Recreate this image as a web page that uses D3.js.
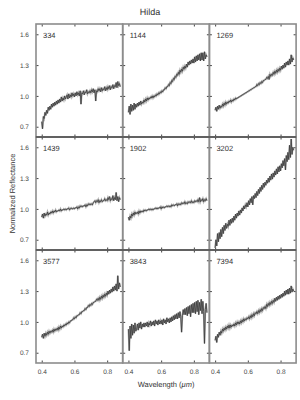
<!DOCTYPE html>
<html>
<head>
<meta charset="utf-8">
<script src="https://cdn.jsdelivr.net/npm/d3@7"></script>
<style>
	body { margin: 0; background: #fff; -webkit-font-smoothing: antialiased; }
	svg { font-family: "Liberation Sans", Arial, sans-serif; text-rendering: geometricPrecision; }
	.tick text { fill: #444; font-size: 6.5px; }
	.tick line { stroke: #444; }
	.domain { display: none; }
</style>
</head>
<body>
<svg id="graph"></svg>
<script>
var names = ["334", "1144", "1269", "1439", "1902", "3202", "3577", "3843", "7394"];
var xTicks = [0.4, 0.6, 0.8];
var yTicks = [0.7, 1.0, 1.3, 1.6];

// wavelength grid (um)
var wave = [
	0.400, 0.405, 0.410, 0.415, 0.420, 0.425, 0.430, 0.435, 0.440, 0.445,
	0.450, 0.455, 0.460, 0.465, 0.470, 0.475, 0.480, 0.485, 0.490, 0.495,
	0.500, 0.505, 0.510, 0.515, 0.520, 0.525, 0.530, 0.535, 0.540, 0.545,
	0.550, 0.555, 0.560, 0.565, 0.570, 0.575, 0.580, 0.585, 0.590, 0.595,
	0.600, 0.605, 0.610, 0.615, 0.620, 0.625, 0.630, 0.635, 0.640, 0.645,
	0.650, 0.655, 0.660, 0.665, 0.670, 0.675, 0.680, 0.685, 0.690, 0.695,
	0.700, 0.705, 0.710, 0.715, 0.720, 0.725, 0.730, 0.735, 0.740, 0.745,
	0.750, 0.755, 0.760, 0.765, 0.770, 0.775, 0.780, 0.785, 0.790, 0.795,
	0.800, 0.805, 0.810, 0.815, 0.820, 0.825, 0.830, 0.835, 0.840, 0.845,
	0.850, 0.855, 0.860, 0.865, 0.870, 0.875, 0.880
];

var r334 = [
	0.75, 0.68, 0.80, 0.78, 0.84, 0.81, 0.86, 0.83, 0.89, 0.86,
	0.90, 0.87, 0.92, 0.89, 0.93, 0.90, 0.94, 0.91, 0.95, 0.92,
	0.96, 0.93, 0.97, 0.94, 0.99, 0.95, 0.98, 0.96, 1.00, 0.97,
	0.99, 1.01, 0.97, 1.02, 0.98, 1.01, 0.99, 1.03, 1.00, 1.02,
	0.99, 1.03, 1.00, 1.04, 1.01, 1.03, 1.00, 1.05, 0.92, 1.03,
	1.02, 1.05, 1.01, 1.04, 1.03, 1.06, 1.02, 1.04, 1.03, 1.05,
	1.03, 1.06, 1.04, 1.07, 1.03, 1.06, 0.95, 1.05, 1.04, 1.07,
	1.05, 1.07, 1.04, 1.08, 1.05, 1.07, 1.06, 1.09, 1.05, 1.08,
	1.06, 1.09, 1.07, 1.10, 1.06, 1.09, 1.08, 1.11, 1.07, 1.10,
	1.09, 1.13, 1.08, 1.14, 1.10, 1.12, 1.09
];
var r1144 = [
	0.84, 0.90, 0.82, 0.92, 0.85, 0.91, 0.86, 0.93, 0.87, 0.92,
	0.89, 0.93, 0.90, 0.94, 0.91, 0.95, 0.92, 0.94, 0.93, 0.96,
	0.94, 0.97, 0.95, 0.98, 0.96, 0.98, 0.97, 0.99, 0.98, 1.00,
	0.98, 1.00, 0.99, 1.01, 1.00, 1.02, 1.01, 1.03, 1.02, 1.04,
	1.03, 1.05, 1.04, 1.06, 1.06, 1.08, 1.07, 1.09, 1.09, 1.11,
	1.10, 1.13, 1.12, 1.15, 1.14, 1.17, 1.16, 1.19, 1.18, 1.21,
	1.20, 1.23, 1.21, 1.25, 1.23, 1.26, 1.24, 1.28, 1.26, 1.29,
	1.27, 1.31, 1.28, 1.33, 1.30, 1.34, 1.31, 1.35, 1.32, 1.36,
	1.32, 1.38, 1.33, 1.39, 1.34, 1.40, 1.35, 1.41, 1.34, 1.42,
	1.35, 1.42, 1.34, 1.43, 1.36, 1.40, 1.38
];
var r1269 = [
	0.86, 0.89, 0.85, 0.90, 0.87, 0.91, 0.88, 0.90, 0.89, 0.92,
	0.90, 0.93, 0.91, 0.94, 0.92, 0.94, 0.93, 0.95, 0.94, 0.96,
	0.94, 0.96, 0.95, 0.97, 0.96, 0.98, 0.97, 0.98, 0.98, 0.99,
	0.99, 1.00, 1.00, 1.01, 1.01, 1.02, 1.02, 1.03, 1.03, 1.04,
	1.04, 1.05, 1.05, 1.06, 1.06, 1.07, 1.07, 1.08, 1.08, 1.09,
	1.09, 1.11, 1.10, 1.12, 1.11, 1.13, 1.12, 1.14, 1.13, 1.15,
	1.15, 1.16, 1.16, 1.18, 1.17, 1.19, 1.16, 1.21, 1.19, 1.21,
	1.20, 1.23, 1.21, 1.24, 1.22, 1.25, 1.23, 1.26, 1.24, 1.27,
	1.25, 1.29, 1.26, 1.30, 1.27, 1.32, 1.28, 1.33, 1.30, 1.34,
	1.30, 1.36, 1.31, 1.40, 1.33, 1.37, 1.35
];
var r1439 = [
	0.92, 0.95, 0.91, 0.96, 0.93, 0.95, 0.94, 0.97, 0.94, 0.96,
	0.95, 0.97, 0.96, 0.98, 0.96, 0.98, 0.97, 0.99, 0.97, 0.98,
	0.98, 0.99, 0.98, 1.00, 0.98, 0.99, 0.99, 1.00, 0.99, 1.00,
	0.99, 1.00, 1.00, 1.01, 0.99, 1.00, 1.01, 1.00, 1.00, 1.01,
	1.00, 1.01, 1.01, 1.02, 1.00, 1.02, 1.01, 1.03, 1.02, 1.03,
	1.02, 1.03, 1.03, 1.04, 1.02, 1.04, 1.03, 1.05, 1.04, 1.05,
	1.04, 1.05, 1.04, 1.06, 1.07, 1.08, 1.06, 1.08, 1.07, 1.09,
	1.06, 1.08, 1.07, 1.09, 1.07, 1.08, 1.08, 1.10, 1.08, 1.09,
	1.08, 1.11, 1.09, 1.12, 1.08, 1.10, 1.09, 1.13, 1.08, 1.11,
	1.09, 1.16, 1.08, 1.12, 1.07, 1.11, 1.09
];
var r1902 = [
	0.92, 0.89, 0.93, 0.91, 0.95, 0.93, 0.96, 0.94, 0.97, 0.95,
	0.96, 0.97, 0.95, 0.98, 0.96, 0.98, 0.97, 0.98, 0.97, 0.99,
	0.98, 0.99, 0.98, 0.99, 0.99, 1.00, 0.99, 1.00, 0.99, 1.00,
	0.99, 1.00, 1.00, 1.01, 1.00, 1.01, 1.00, 1.01, 1.01, 1.02,
	1.00, 1.02, 1.01, 1.02, 1.01, 1.02, 1.02, 1.03, 1.02, 1.03,
	1.02, 1.03, 1.02, 1.04, 1.03, 1.04, 1.03, 1.04, 1.04, 1.05,
	1.03, 1.05, 1.04, 1.05, 1.04, 1.06, 1.05, 1.06, 1.05, 1.07,
	1.05, 1.06, 1.05, 1.07, 1.06, 1.07, 1.06, 1.08, 1.06, 1.07,
	1.06, 1.08, 1.07, 1.08, 1.07, 1.09, 1.07, 1.11, 1.07, 1.09,
	1.08, 1.10, 1.07, 1.09, 1.08, 1.10, 1.08
];
var r3202 = [
	0.62, 0.70, 0.64, 0.76, 0.68, 0.77, 0.71, 0.80, 0.73, 0.82,
	0.76, 0.84, 0.79, 0.86, 0.81, 0.85, 0.83, 0.89, 0.84, 0.90,
	0.86, 0.91, 0.87, 0.93, 0.89, 0.95, 0.91, 0.96, 0.93, 0.98,
	0.94, 0.99, 0.96, 1.01, 0.98, 1.03, 1.00, 1.04, 1.02, 1.06,
	1.02, 1.08, 1.04, 1.10, 1.06, 1.12, 1.04, 1.13, 1.10, 1.15,
	1.11, 1.17, 1.13, 1.19, 1.15, 1.21, 1.17, 1.23, 1.19, 1.25,
	1.21, 1.26, 1.23, 1.28, 1.25, 1.30, 1.26, 1.32, 1.28, 1.34,
	1.29, 1.35, 1.31, 1.37, 1.33, 1.39, 1.34, 1.41, 1.36, 1.42,
	1.37, 1.44, 1.40, 1.47, 1.42, 1.49, 1.38, 1.52, 1.46, 1.55,
	1.48, 1.62, 1.50, 1.68, 1.53, 1.60, 1.57
];
var r3577 = [
	0.85, 0.88, 0.84, 0.89, 0.86, 0.89, 0.87, 0.90, 0.88, 0.91,
	0.89, 0.91, 0.90, 0.92, 0.90, 0.93, 0.91, 0.93, 0.92, 0.94,
	0.92, 0.95, 0.93, 0.96, 0.94, 0.96, 0.95, 0.97, 0.96, 0.98,
	0.97, 0.99, 0.98, 1.00, 0.99, 1.01, 1.01, 1.02, 1.02, 1.04,
	1.03, 1.05, 1.04, 1.06, 1.06, 1.07, 1.07, 1.09, 1.08, 1.10,
	1.10, 1.11, 1.11, 1.13, 1.12, 1.14, 1.14, 1.16, 1.15, 1.17,
	1.16, 1.18, 1.17, 1.19, 1.19, 1.20, 1.20, 1.22, 1.21, 1.23,
	1.21, 1.24, 1.22, 1.25, 1.23, 1.26, 1.24, 1.27, 1.25, 1.28,
	1.26, 1.30, 1.27, 1.31, 1.28, 1.32, 1.29, 1.34, 1.30, 1.35,
	1.31, 1.37, 1.30, 1.45, 1.32, 1.38, 1.34
];
var r3843 = [
	0.93, 0.72, 0.96, 0.84, 0.98, 0.87, 0.97, 0.89, 0.99, 0.91,
	0.93, 0.98, 0.92, 0.99, 0.94, 1.00, 0.93, 0.98, 0.95, 0.99,
	0.95, 0.99, 0.96, 1.00, 0.95, 0.99, 0.97, 1.01, 0.96, 1.00,
	0.97, 1.01, 0.96, 1.02, 0.98, 1.01, 0.97, 1.02, 0.98, 1.01,
	0.98, 1.02, 0.97, 1.03, 0.99, 1.02, 0.98, 1.04, 1.00, 1.03,
	0.99, 1.04, 1.00, 1.05, 1.01, 1.06, 1.02, 1.07, 1.03, 1.08,
	1.03, 1.09, 1.04, 1.10, 1.05, 0.90, 1.06, 1.12, 1.07, 1.13,
	1.07, 1.14, 1.06, 1.15, 1.08, 1.16, 1.05, 1.17, 1.09, 1.18,
	1.09, 1.19, 1.08, 1.20, 1.10, 1.21, 1.07, 1.19, 1.11, 1.22,
	1.08, 1.20, 1.10, 0.79, 1.12, 1.18, 1.09
];
var r7394 = [
	0.82, 0.86, 0.80, 0.88, 0.85, 0.90, 0.87, 0.91, 0.89, 0.93,
	0.91, 0.94, 0.92, 0.95, 0.93, 0.96, 0.94, 0.97, 0.94, 0.97,
	0.95, 0.97, 0.96, 0.98, 0.96, 0.99, 0.97, 1.00, 0.98, 1.00,
	0.98, 1.01, 0.99, 1.02, 1.00, 1.03, 1.01, 1.03, 1.02, 1.04,
	1.03, 1.05, 1.03, 1.06, 1.04, 1.07, 1.05, 1.08, 1.06, 1.09,
	1.08, 1.10, 1.08, 1.11, 1.09, 1.12, 1.10, 1.13, 1.11, 1.14,
	1.13, 1.15, 1.13, 1.17, 1.15, 1.18, 1.16, 1.19, 1.17, 1.20,
	1.18, 1.21, 1.19, 1.23, 1.20, 1.24, 1.21, 1.25, 1.22, 1.26,
	1.23, 1.27, 1.24, 1.28, 1.25, 1.30, 1.26, 1.31, 1.27, 1.32,
	1.27, 1.33, 1.28, 1.35, 1.29, 1.32, 1.30
];
var spectra = [r334, r1144, r1269, r1439, r1902, r3202, r3577, r3843, r7394];

var margin = {top: 24, left: 36},
	cellW = 86.7,
	cellH = 113;

var svg = d3.select("#graph")
	.attr("width", 300)
	.attr("height", 400);

// title and axis labels
svg.append("text")
	.attr("x", 150).attr("y", 15)
	.attr("text-anchor", "middle")
	.attr("font-size", 9).attr("fill", "#333")
	.text("Hilda");
svg.append("text")
	.attr("transform", "translate(15," + (margin.top + cellH * 1.5) + ") rotate(-90)")
	.attr("text-anchor", "middle")
	.attr("font-size", 7.5).attr("fill", "#333")
	.text("Normalized Reflectance");
svg.append("text")
	.attr("x", margin.left + cellW * 1.5).attr("y", 387)
	.attr("text-anchor", "middle")
	.attr("font-size", 7.5).attr("fill", "#333")
	.html("Wavelength (<tspan font-style='italic'>\u03bcm</tspan>)");

var line = d3.line();

for (var i = 0; i < names.length; i++) {
	var col = i % 3, row = Math.floor(i / 3);
	var g = svg.append("g")
		.attr("transform", "translate(" + (margin.left + col * cellW) + "," + (margin.top + row * cellH) + ")");

	var x = d3.scaleLinear().domain([0.365, 0.895]).range([0, cellW]);
	var y = d3.scaleLinear().domain([0.6, 1.7]).range([cellH, 0]);

	// ticks on all four sides, pointing inward
	var bottom = g.append("g")
		.attr("transform", "translate(0," + cellH + ")")
		.call(d3.axisBottom(x).tickValues(xTicks).tickSizeInner(-2.5).tickSizeOuter(0).tickPadding(6).tickFormat(d3.format(".1f")));
	if (row < 2) bottom.selectAll("text").remove();
	g.append("g")
		.call(d3.axisTop(x).tickValues(xTicks).tickSizeInner(-2.5).tickSizeOuter(0).tickFormat(""));
	var left = g.append("g")
		.call(d3.axisLeft(y).tickValues(yTicks).tickSizeInner(-2.5).tickSizeOuter(0).tickPadding(7).tickFormat(d3.format(".1f")));
	if (col > 0) left.selectAll("text").remove();
	g.append("g")
		.attr("transform", "translate(" + cellW + ",0)")
		.call(d3.axisRight(y).tickValues(yTicks).tickSizeInner(-2.5).tickSizeOuter(0).tickFormat(""));

	var pts = wave.map(function (w, k) { return [x(w), y(spectra[i][k])]; });
	g.append("path")
		.attr("d", line(pts))
		.attr("fill", "none")
		.attr("stroke", "#b0b0b0")
		.attr("stroke-width", 1.8);
	g.append("path")
		.attr("d", line(pts))
		.attr("fill", "none")
		.attr("stroke", "#3a3a3a")
		.attr("stroke-width", 0.8);

	g.append("text")
		.attr("x", 7).attr("y", 14)
		.attr("font-size", 7.5).attr("fill", "#333")
		.text(names[i]);

	// panel frame
	g.append("rect")
		.attr("width", cellW).attr("height", cellH)
		.attr("fill", "none")
		.attr("stroke", "#8c8c8c")
		.attr("stroke-width", 1.6);
}

// row separators drawn darker
for (var r = 1; r < 3; r++) {
	svg.append("line")
		.attr("x1", margin.left).attr("x2", margin.left + cellW * 3)
		.attr("y1", margin.top + r * cellH).attr("y2", margin.top + r * cellH)
		.attr("stroke", "#333").attr("stroke-width", 1);
}
</script>
</body>
</html>
